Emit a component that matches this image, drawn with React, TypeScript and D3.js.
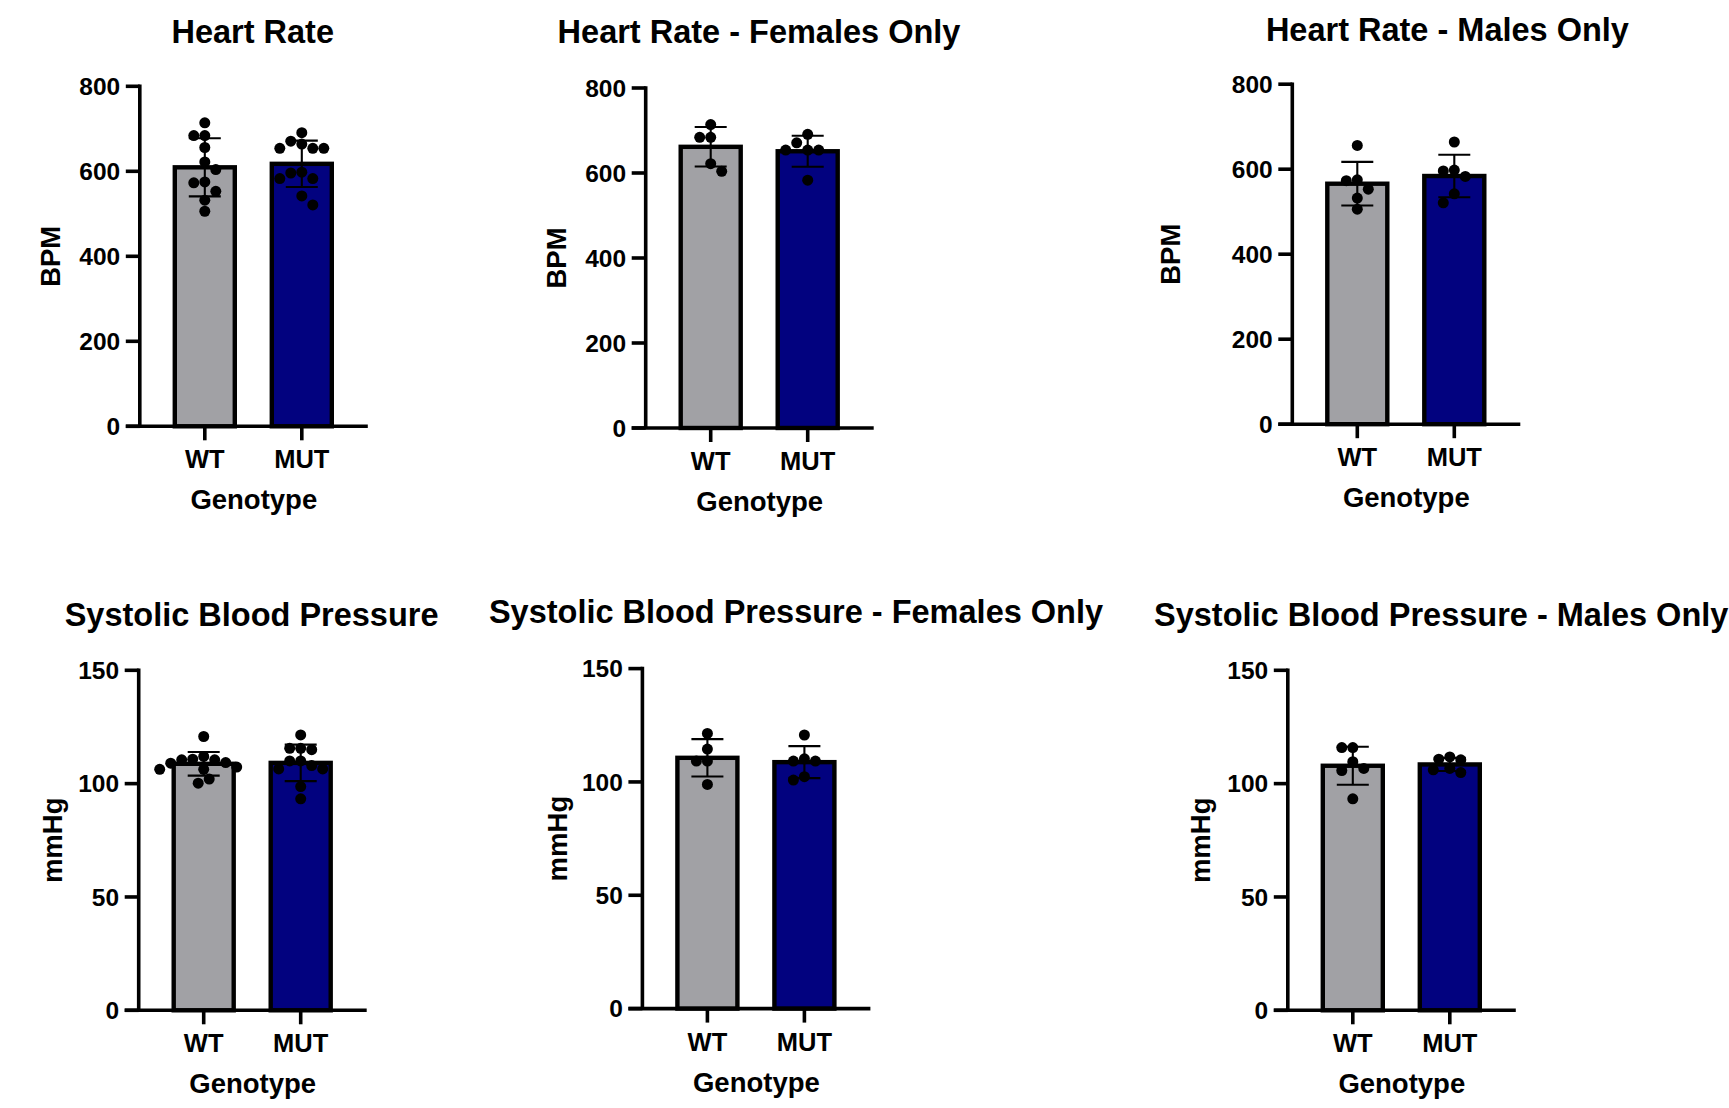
import React from "react";
import * as d3 from "d3";

// ---------- data ----------
const categories = ["WT", "MUT"];
const xAxisTitle = "Genotype";

const hrTicks = [0, 200, 400, 600, 800];
const sbpTicks = [0, 50, 100, 150];

// Heart rate (BPM)
const hrWtFemales = [714, 684, 684, 622, 604];
const hrWtMales = [656, 575, 573, 553, 532, 506];
const hrMutFemales = [691, 671, 654, 654, 654, 583];
const hrMutMales = [664, 598, 596, 583, 542, 521];

// Systolic blood pressure (mmHg)
const sbpWtAll = [120.8, 112.0, 110.8, 110.5, 110.5, 109.3, 109.0, 107.3, 106.3, 106.3, 102.0, 100.2];
const sbpMutAll = [121.5, 115.6, 115.6, 115.0, 110.0, 110.0, 108.0, 106.5, 106.5, 98.7, 93.3];
const sbpWtFemales = [121.4, 114.5, 109.2, 109.2, 98.9];
const sbpMutFemales = [120.7, 110.2, 109.2, 109.2, 102.3, 100.8];
const sbpWtMales = [115.9, 115.9, 109.7, 106.7, 105.8, 93.3];
const sbpMutMales = [111.8, 110.8, 110.5, 106.7, 106.1, 104.9];

const panels = [
  { title: "Heart Rate", yLabel: "BPM", yMax: 800, ticks: hrTicks, groups: [hrWtFemales.concat(hrWtMales), hrMutFemales.concat(hrMutMales)] },
  { title: "Heart Rate - Females Only", yLabel: "BPM", yMax: 800, ticks: hrTicks, groups: [hrWtFemales, hrMutFemales] },
  { title: "Heart Rate - Males Only", yLabel: "BPM", yMax: 800, ticks: hrTicks, groups: [hrWtMales, hrMutMales] },
  { title: "Systolic Blood Pressure", yLabel: "mmHg", yMax: 150, ticks: sbpTicks, groups: [sbpWtAll, sbpMutAll] },
  { title: "Systolic Blood Pressure - Females Only", yLabel: "mmHg", yMax: 150, ticks: sbpTicks, groups: [sbpWtFemales, sbpMutFemales] },
  { title: "Systolic Blood Pressure - Males Only", yLabel: "mmHg", yMax: 150, ticks: sbpTicks, groups: [sbpWtMales, sbpMutMales] },
];

// ---------- layout & style ----------
const layouts = [
  { axisX: 139.8, y0: 426.3, titleX: 252.7, titleY: 43, anchor: "middle", yLabelDx: -79.5 },
  { axisX: 645.7, y0: 428.0, titleX: 759, titleY: 43, anchor: "middle", yLabelDx: -79.3 },
  { axisX: 1292.3, y0: 424.2, titleX: 1447.4, titleY: 41.3, anchor: "middle", yLabelDx: -112.6 },
  { axisX: 138.7, y0: 1010.3, titleX: 251.6, titleY: 625.6, anchor: "middle", yLabelDx: -76.7 },
  { axisX: 642.4, y0: 1008.6, titleX: 796, titleY: 623.2, anchor: "middle", yLabelDx: -75.9 },
  { axisX: 1287.8, y0: 1010.3, titleX: 1154, titleY: 625.6, anchor: "start", yLabelDx: -77.8 },
];

const W = 1729;
const H = 1108;
const PLOT_H = 340;
const AXIS_LEN = 228;
const FIRST_CAT = 65;
const LAST_CAT = 162;
const BAR_W = 60;
const COLORS = ["#a1a1a5", "#02027f"];
const FONT = "'Liberation Sans', Arial, Helvetica, sans-serif";
const AXIS_SW = 3.6;
const TICK_LEN = 14;
const DOT_R = 5.5;
const SWARM_STEP = DOT_R;
const SWARM_DIST = DOT_R * 2;

function swarm(values: number[], y: (v: number) => number) {
  const order = values.map((v) => ({ v, y: y(v) })).sort((a, b) => a.y - b.y);
  const placed: { x: number; y: number; v: number }[] = [];
  let side = -1;
  for (const p of order) {
    let done = false;
    for (let step = 0; step < 40 && !done; step++) {
      const cands = step === 0 ? [0] : [side * step * SWARM_STEP, -side * step * SWARM_STEP];
      for (const off of cands) {
        if (placed.every((q) => Math.hypot(q.x - off, q.y - p.y) >= SWARM_DIST - 1e-6)) {
          placed.push({ x: off, y: p.y, v: p.v });
          if (off !== 0) side = off > 0 ? -1 : 1;
          done = true;
          break;
        }
      }
    }
  }
  return placed;
}

function Panel({ panel, layout }: { panel: any; layout: any }) {
  const { axisX, y0 } = layout;
  const y = d3.scaleLinear().domain([0, panel.yMax]).range([y0, y0 - PLOT_H]);
  const x = d3.scalePoint<string>().domain(categories).range([axisX + FIRST_CAT, axisX + LAST_CAT]);

  return (
    <g>
      <text
        x={layout.titleX}
        y={layout.titleY}
        textAnchor={layout.anchor}
        fontFamily={FONT}
        fontWeight="bold"
        fontSize={32.5}
        fill="#000"
      >
        {panel.title}
      </text>

      {panel.groups.map((vals: number[], i: number) => {
        const cat = categories[i];
        const cx = x(cat) as number;
        const mean = d3.mean(vals) as number;
        const sd = d3.deviation(vals) as number;
        const dots = swarm(vals, y);
        return (
          <g key={cat}>
            <rect
              x={cx - BAR_W / 2}
              y={y(mean)}
              width={BAR_W}
              height={y0 - y(mean)}
              fill={COLORS[i]}
              stroke="#000"
              strokeWidth={4.4}
            />
            <line x1={cx} x2={cx} y1={y(mean + sd)} y2={y(mean - sd)} stroke="#000" strokeWidth={2.1} />
            <line x1={cx - 16} x2={cx + 16} y1={y(mean + sd)} y2={y(mean + sd)} stroke="#000" strokeWidth={2.1} />
            <line x1={cx - 16} x2={cx + 16} y1={y(mean - sd)} y2={y(mean - sd)} stroke="#000" strokeWidth={2.1} />
            {dots.map((d, j) => (
              <circle key={j} cx={cx + d.x} cy={d.y} r={DOT_R} fill="#000" />
            ))}
          </g>
        );
      })}

      <line x1={axisX} x2={axisX} y1={y(panel.yMax) - AXIS_SW / 2} y2={y0} stroke="#000" strokeWidth={AXIS_SW} />
      {panel.ticks.map((t: number) => (
        <g key={t}>
          <line x1={axisX - TICK_LEN} x2={axisX} y1={y(t)} y2={y(t)} stroke="#000" strokeWidth={AXIS_SW} />
          <text
            x={axisX - 19.6}
            y={y(t)}
            dy="0.36em"
            textAnchor="end"
            fontFamily={FONT}
            fontWeight="bold"
            fontSize={24.5}
          >
            {t}
          </text>
        </g>
      ))}
      <line x1={axisX - TICK_LEN} x2={axisX + AXIS_LEN} y1={y0} y2={y0} stroke="#000" strokeWidth={AXIS_SW} />
      {categories.map((c) => (
        <g key={c}>
          <line x1={x(c)} x2={x(c)} y1={y0} y2={y0 + TICK_LEN} stroke="#000" strokeWidth={AXIS_SW} />
          <text x={x(c)} y={y0 + 42} textAnchor="middle" fontFamily={FONT} fontWeight="bold" fontSize={25.5}>
            {c}
          </text>
        </g>
      ))}
      <text x={axisX + AXIS_LEN / 2} y={y0 + 83} textAnchor="middle" fontFamily={FONT} fontWeight="bold" fontSize={27.5}>
        {xAxisTitle}
      </text>
      <text
        transform={`translate(${axisX + layout.yLabelDx},${y0 - PLOT_H / 2}) rotate(-90)`}
        textAnchor="middle"
        fontFamily={FONT}
        fontWeight="bold"
        fontSize={27.5}
      >
        {panel.yLabel}
      </text>
    </g>
  );
}

export default function App() {
  return (
    <svg
      width={W}
      height={H}
      viewBox={`0 0 ${W} ${H}`}
      style={{ position: "absolute", left: 0, top: 0, background: "#fff", overflow: "hidden" }}
    >
      <rect x={0} y={0} width={W} height={H} fill="#fff" />
      {panels.map((p, i) => (
        <Panel key={p.title} panel={p} layout={layouts[i]} />
      ))}
    </svg>
  );
}
